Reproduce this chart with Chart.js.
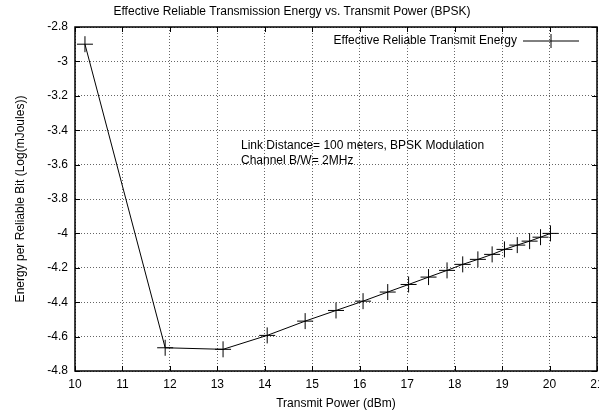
<!DOCTYPE html>
<html>
<head>
<meta charset="utf-8">
<script src="https://cdn.jsdelivr.net/npm/chart.js@4.4.1/dist/chart.umd.min.js"></script>
<style>
  html, body { margin: 0; padding: 0; background: #fff; }
  #wrap { width: 599px; height: 420px; }
</style>
</head>
<body>
<div id="wrap"><canvas id="energyChart" width="599" height="420"></canvas></div>
<script>
// values
const powerDbm = [10.21, 11.90, 13.12, 14.05, 14.85, 15.50, 16.07, 16.59, 17.03, 17.45,
                  17.84, 18.17, 18.49, 18.79, 19.05, 19.32, 19.58, 19.81, 20.02];
const energyLog = [-2.90, -4.665, -4.674, -4.593, -4.51, -4.448, -4.394, -4.341, -4.297, -4.254,
                   -4.215, -4.18, -4.151, -4.122, -4.093, -4.068, -4.045, -4.022, -4.0];
const seriesLabel = 'Effective Reliable Transmit Energy';
const chartTitle = 'Effective Reliable Transmission Energy vs. Transmit Power (BPSK)';
const noteLines = ['Link Distance= 100 meters, BPSK Modulation', 'Channel B/W= 2MHz'];

const FONT = 'Liberation Sans, Arial, Helvetica, sans-serif';
Chart.defaults.font.family = FONT;
Chart.defaults.color = '#000';

// gnuplot-ish frame: border, inward ticks on all sides, title, key and label text
const gnuFrame = {
    id: 'gnuFrame',
    afterDraw(chart) {
        const { ctx, chartArea: a, scales: { x, y } } = chart;
        ctx.save();
        ctx.strokeStyle = '#000';
        ctx.lineWidth = 1;
        ctx.beginPath();
        x.ticks.forEach(t => {
            const px = Math.round(x.getPixelForValue(t.value)) + 0.5;
            ctx.moveTo(px, a.bottom); ctx.lineTo(px, a.bottom - 5);
            ctx.moveTo(px, a.top); ctx.lineTo(px, a.top + 5);
        });
        y.ticks.forEach(t => {
            const py = Math.round(y.getPixelForValue(t.value)) + 0.5;
            ctx.moveTo(a.left, py); ctx.lineTo(a.left + 5, py);
            ctx.moveTo(a.right, py); ctx.lineTo(a.right - 5, py);
        });
        ctx.stroke();
        ctx.lineWidth = 1.5;
        ctx.strokeRect(a.left, a.top, a.right - a.left, a.bottom - a.top);

        ctx.font = '12px ' + FONT;
        ctx.fillStyle = '#000';

        // title (gnuplot centres it slightly left of the canvas middle)
        ctx.textAlign = 'center';
        ctx.textBaseline = 'middle';
        ctx.fillText(chartTitle, 292, 12);

        // key
        ctx.textAlign = 'right';
        const ky = a.top + 14;
        ctx.fillText(seriesLabel, a.right - 80, ky);
        ctx.lineWidth = 1;
        ctx.beginPath();
        ctx.moveTo(a.right - 74, ky); ctx.lineTo(a.right - 18, ky);
        ctx.moveTo(a.right - 46, ky - 7); ctx.lineTo(a.right - 46, ky + 7);
        ctx.stroke();

        // annotation
        ctx.textAlign = 'left';
        ctx.textBaseline = 'alphabetic';
        ctx.fillText(noteLines[0], 241, 149);
        ctx.fillText(noteLines[1], 241, 164);
        ctx.restore();
    }
};

new Chart(document.getElementById('energyChart'), {
    type: 'line',
    data: {
        datasets: [{
            label: seriesLabel,
            data: powerDbm.map((p, i) => ({ x: p, y: energyLog[i] })),
            borderColor: '#000',
            borderWidth: 1,
            pointStyle: 'cross',
            pointRadius: 8,
            pointBorderWidth: 1,
            pointBorderColor: '#000',
            tension: 0
        }]
    },
    options: {
        responsive: false,
        animation: false,
        layout: { autoPadding: false, padding: { left: 0, right: 2, top: 27, bottom: 0 } },
        plugins: {
            legend: { display: false },
            tooltip: { enabled: false },
            title: { display: false }
        },
        scales: {
            x: {
                type: 'linear',
                min: 10, max: 21,
                border: { display: false, dash: [1, 2] },
                grid: { color: 'rgba(0,0,0,0.6)', drawTicks: false, lineWidth: 1 },
                ticks: { stepSize: 1, font: { size: 12 }, padding: 6, maxRotation: 0 },
                title: { display: true, text: 'Transmit Power (dBm)', font: { size: 12 }, padding: { top: 0, bottom: 9 } },
                afterFit(scale) { scale.height = 49; scale.paddingRight = 0; }
            },
            y: {
                min: -4.8, max: -2.8,
                border: { display: false, dash: [1, 2] },
                grid: { color: 'rgba(0,0,0,0.6)', drawTicks: false, lineWidth: 1 },
                ticks: {
                    stepSize: 0.2, font: { size: 12 }, padding: 7,
                    callback: v => String(Number(v.toFixed(1)))
                },
                title: { display: true, text: 'Energy per Reliable Bit (Log(mJoules))', font: { size: 12 }, padding: { top: 13, bottom: 0 } },
                afterFit(scale) { scale.width = 75; }
            }
        }
    },
    plugins: [gnuFrame]
});
</script>
</body>
</html>
